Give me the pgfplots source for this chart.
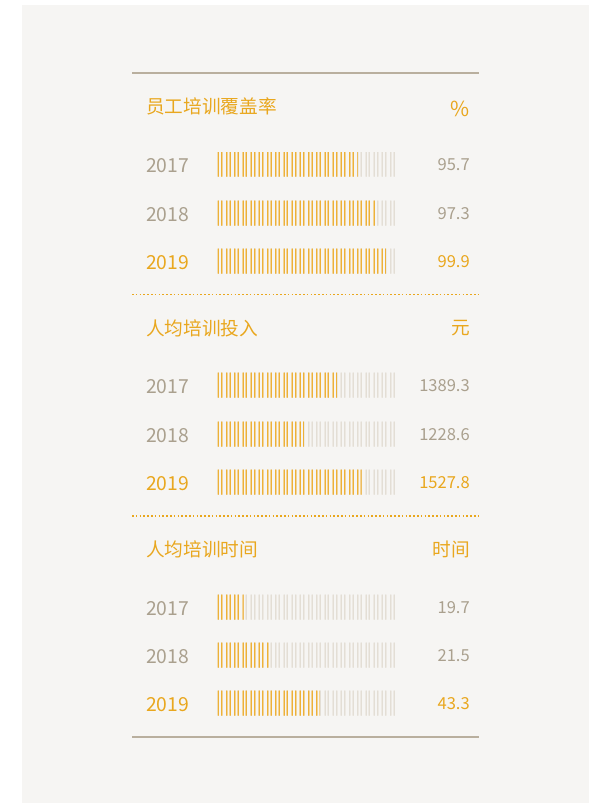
\documentclass[border=0pt]{standalone}
\usepackage{pgfplots}
\usepackage{pgfplotstable}
\pgfplotsset{compat=1.18}
\usepackage{fontspec}
\setmainfont{Noto Sans CJK SC}
\definecolor{panel}{HTML}{F6F5F3}
\definecolor{gold}{HTML}{E9A71E}
\definecolor{goldlight}{HTML}{F3D395}
\definecolor{golddark}{HTML}{EDB138}
\definecolor{graytxt}{HTML}{AAA08E}
\definecolor{rulec}{HTML}{B9AF9E}
\definecolor{unitgray}{HTML}{EDE9E3}
\definecolor{unitgraydark}{HTML}{E3DED5}

% bar length, in units of the 22-unit track
\pgfplotstableread{
y   fill  full
164 17.1  22
213 19.25 22
261 20.6  22
385 14.6  22
434 10.6  22
482 17.6  22
607 3.2   22
655 6.3   22
703 12.6  22
}\bars

\tikzset{
  units/.style 2 args={path picture={
    \path[path picture={}] (path picture bounding box.south west) coordinate (psw)
          (path picture bounding box.north west) coordinate (pnw);
    \foreach \i in {0,...,21}{
      \foreach \o in {0,2.55}{
        \fill[#1, path picture={}] ([xshift=\i*6.15pt+\o pt]psw) rectangle ([xshift=\i*6.15pt+\o pt+1.5pt]pnw);
        \fill[#2, path picture={}] ([xshift=\i*6.15pt+\o pt+0.5pt]psw) rectangle ([xshift=\i*6.15pt+\o pt+1.0pt]pnw);
      }
    }
  }}
}

\begin{document}
\begin{tikzpicture}[x=0.75pt,y=-0.75pt]
\useasboundingbox (0,0) rectangle (604,803);
\fill[white] (0,0) rectangle (604,803);
\fill[panel] (22,5) rectangle (589,803);

% axis spans the whole picture; x in track units of 8.2 px, starting at px 217.3
\begin{axis}[at={(0,0)}, anchor=north west, scale only axis,
  width=453pt, height=602.25pt, xmin=-26.5, xmax=47.16, ymin=0, ymax=803,
  y dir=reverse, hide axis, clip=false]
\addplot[xbar, bar shift=0pt, bar width=18.75pt, draw=none, fill=none,
  units={unitgray}{unitgraydark}] table[x=full, y=y] {\bars};
\addplot[xbar, bar shift=0pt, bar width=18.75pt, draw=none, fill=none,
  units={goldlight}{golddark}] table[x=fill, y=y] {\bars};
\end{axis}

\draw[rulec, line width=1.5pt] (132,73.3) -- (479,73.3);
\draw[rulec, line width=1.5pt] (132,736.7) -- (479,736.7);
\draw[gold, line width=1.3pt, dash pattern=on 1.2pt off 1.65pt] (132,294.5) -- (479,294.5);
\draw[gold, line width=1.3pt, dash pattern=on 1.2pt off 1.65pt] (132,516) -- (479,516);

\tikzset{title/.style={anchor=west, inner sep=0pt, text=gold, font=\fontsize{14pt}{16pt}\selectfont},
  unit/.style={anchor=east, inner sep=0pt, text=gold, font=\fontsize{14pt}{16pt}\selectfont},
  yr/.style={anchor=west, inner sep=0pt, text=graytxt, font=\fontsize{14.5pt}{17pt}\selectfont},
  val/.style={anchor=east, inner sep=0pt, text=graytxt, font=\fontsize{12.4pt}{15pt}\selectfont}}

\node[title] at (146,106) {员工培训覆盖率};
\node[unit, font=\fontsize{15.5pt}{18pt}\selectfont] at (470,109) {\%};
\node[title] at (146,328) {人均培训投入};
\node[unit] at (470,328) {元};
\node[title] at (146,549) {人均培训时间};
\node[unit] at (470,549) {时间};

\node[yr] at (146,165.5) {2017};
\node[yr] at (146,214.5) {2018};
\node[yr, text=gold] at (146,262.5) {2019};
\node[val] at (470,165) {95.7};
\node[val] at (470,214) {97.3};
\node[val, text=gold] at (470,262) {99.9};

\node[yr] at (146,386.5) {2017};
\node[yr] at (146,435.5) {2018};
\node[yr, text=gold] at (146,483.5) {2019};
\node[val] at (470,386) {1389.3};
\node[val] at (470,435) {1228.6};
\node[val, text=gold] at (470,483) {1527.8};

\node[yr] at (146,608.5) {2017};
\node[yr] at (146,656.5) {2018};
\node[yr, text=gold] at (146,704.5) {2019};
\node[val] at (470,608) {19.7};
\node[val] at (470,656) {21.5};
\node[val, text=gold] at (470,704) {43.3};
\end{tikzpicture}
\end{document}
